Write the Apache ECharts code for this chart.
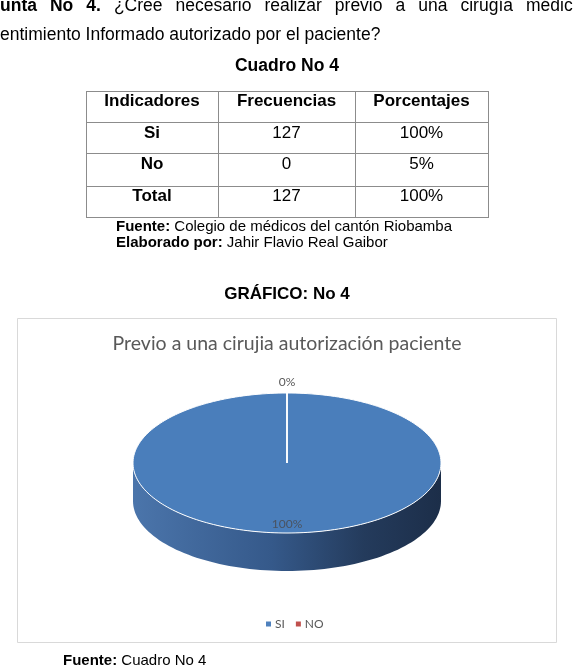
<!DOCTYPE html>
<html><head><meta charset="utf-8">
<script src="https://cdn.jsdelivr.net/npm/echarts@6/dist/echarts.min.js"></script>
<style>html,body{margin:0;padding:0;background:#fff}#c{width:573px;height:666px}</style>
</head><body><div id="c"></div>
<script>
// ---- data ----
const categories = ['SI', 'NO'];
const frequencies = [127, 0];
const chartTitle = 'Previo a una cirujia autorización paciente';
const tableHeader = ['Indicadores', 'Frecuencias', 'Porcentajes'];
const tableIndicators = ['Si', 'No', 'Total'];
const tableFrequencies = ['127', '0', '127'];
const tablePercentages = ['100%', '5%', '100%'];
const questionBold = ['Pregunta', 'No', '4.'];
const questionWords = ['¿Cree', 'necesario', 'realizar', 'previo', 'a', 'una', 'cirugía', 'médico'];
const questionLine2 = 'Consentimiento Informado autorizado por el paciente?';

// ---- layout / style ----
const BODY = 'Liberation Sans';
const CHARTF = 'Lato';
const sliceColors = ['#4f81bd', '#c0504d'];
const pie = { cx: 287, cy: 463, rx: 154, ry: 70, depth: 38 };

const ctx = document.createElement('canvas').getContext('2d');
function tw(t, size, bold) { ctx.font = (bold ? 'bold ' : '') + size + 'px "' + BODY + '"'; return ctx.measureText(t).width; }

const graphic = [];
function txt(x, y, text, size, opts) {
  opts = opts || {};
  graphic.push({ type: 'text', x: x, y: y, silent: true, style: {
    text: text, fontFamily: opts.font || BODY, fontSize: size, fontWeight: opts.bold ? 'bold' : 'normal',
    fill: opts.color || '#000', align: opts.align || 'left', verticalAlign: 'middle' } });
}

// question line 1 (justified, clipped by the page)
const FS = 17.5;
const allWords = questionBold.map(w => ({ w, b: true })).concat(questionWords.map(w => ({ w, b: false })));
const startX = -tw('Preg', FS, true);
const lastStart = 526;
let sumW = 0;
for (let i = 0; i < allWords.length - 1; i++) sumW += tw(allWords[i].w, FS, allWords[i].b);
const gap = (lastStart - startX - sumW) / (allWords.length - 1);
let xx = startX;
allWords.forEach(o => { txt(xx, 6, o.w, FS, { bold: o.b }); xx += tw(o.w, FS, o.b) + gap; });
// line 2
txt(-tw('Cons', FS, false), 35, questionLine2, FS);
txt(287, 66.5, 'Cuadro No 4', FS, { bold: true, align: 'center' });

// table
const colX = [86, 218, 355, 488];
const rowY = [91, 122, 153, 186, 217];
const lineStyle = { stroke: '#8c8c8c', lineWidth: 1 };
colX.forEach(x => graphic.push({ type: 'line', silent: true, shape: { x1: x + 0.5, y1: rowY[0], x2: x + 0.5, y2: rowY[rowY.length - 1] + 1 }, style: lineStyle }));
rowY.forEach(y => graphic.push({ type: 'line', silent: true, shape: { x1: colX[0], y1: y + 0.5, x2: colX[colX.length - 1] + 1, y2: y + 0.5 }, style: lineStyle }));
const colC = [152, 286.5, 421.5];
const textY = [101.5, 133, 164.5, 196];
tableHeader.forEach((h, j) => txt(colC[j], textY[0], h, 17, { bold: true, align: 'center' }));
tableIndicators.forEach((v, i) => {
  txt(colC[0], textY[i + 1], v, 17, { bold: true, align: 'center' });
  txt(colC[1], textY[i + 1], tableFrequencies[i], 17, { align: 'center' });
  txt(colC[2], textY[i + 1], tablePercentages[i], 17, { align: 'center' });
});
// sources
function src(x, y, b, n, size) {
  txt(x, y, b, size, { bold: true });
  txt(x + tw(b, size, true), y, n, size);
}
src(116, 226.5, 'Fuente: ', 'Colegio de médicos del cantón Riobamba', 15);
src(116, 242.5, 'Elaborado por: ', 'Jahir Flavio Real Gaibor', 15);
txt(287, 294, 'GRÁFICO: No 4', 17, { bold: true, align: 'center' });
src(63, 661, 'Fuente: ', 'Cuadro No 4', 15);

// chart frame and title
graphic.push({ type: 'rect', silent: true, z: -1, shape: { x: 17.5, y: 318.5, width: 539, height: 324 }, style: { fill: '#fff', stroke: '#d9d9d9', lineWidth: 1 } });
txt(287, 343.5, chartTitle, 19.5, { font: CHARTF, color: '#595959', align: 'center' });

// ---- pie (custom series drawn from the data) ----
const total = frequencies.reduce((a, b) => a + b, 0);
function ell(a, dy) { return [pie.cx + pie.rx * Math.cos(a), pie.cy + pie.ry * Math.sin(a) + (dy || 0)]; }
function makeRender(idx) {
  return function (params, api) {
    const v = api.value(0);
    let before = 0;
    for (let k = 0; k < idx; k++) before += frequencies[k];
    const a0 = -Math.PI / 2 + 2 * Math.PI * before / total;
    const a1 = a0 + 2 * Math.PI * v / total;
    const children = [];
    // side (front half of the slice)
    for (let k = -1; k <= 1; k++) {
      const s = Math.max(a0, 2 * Math.PI * k), e = Math.min(a1, 2 * Math.PI * k + Math.PI);
      if (e - s > 1e-6) {
        const pts = [];
        const N = 90;
        for (let i = 0; i <= N; i++) pts.push(ell(s + (e - s) * i / N));
        for (let i = N; i >= 0; i--) pts.push(ell(s + (e - s) * i / N, pie.depth));
        children.push({ type: 'polygon', shape: { points: pts }, style: {
          fill: { type: 'linear', x: 0, y: 0, x2: 1, y2: 0, colorStops: [
            { offset: 0, color: '#4b75ab' }, { offset: 0.45, color: '#35598a' },
            { offset: 0.75, color: '#243b5c' }, { offset: 1, color: '#1c2e49' }] }, stroke: null } });
      }
    }
    // top face
    if (a1 - a0 > 1e-6) {
      const pts = [[pie.cx, pie.cy]];
      const N = 240;
      for (let i = 0; i <= N; i++) pts.push(ell(a0 + (a1 - a0) * i / N));
      children.push({ type: 'polygon', shape: { points: pts }, style: { fill: '#4a7ebb', stroke: '#ffffff', lineWidth: 1 } });
    }
    // slice boundary
    const pb = ell(a0);
    children.push({ type: 'line', shape: { x1: pie.cx, y1: pie.cy, x2: pb[0], y2: pb[1] }, style: { stroke: '#ffffff', lineWidth: 1.2 } });
    // label
    const mid = (a0 + a1) / 2;
    const inside = v / total >= 0.05;
    const f = inside ? 0.87 : 1.16;
    children.push({ type: 'text', x: pie.cx + pie.rx * f * Math.cos(mid), y: pie.cy + pie.ry * f * Math.sin(mid), z2: 10, style: {
      text: Math.round(v / total * 100) + '%', fontFamily: CHARTF, fontSize: 12,
      fill: inside ? '#4a5360' : '#595959', align: 'center', verticalAlign: 'middle' } });
    return { type: 'group', children: children };
  };
}

const chart = echarts.init(document.getElementById('c'), null, { renderer: 'canvas' });
chart.setOption({
  animation: false,
  backgroundColor: '#ffffff',
  legend: {
    data: categories, left: 261, top: 613, icon: 'rect', itemWidth: 5, itemHeight: 5, itemGap: 11,
    textStyle: { fontFamily: CHARTF, fontSize: 12, color: '#595959', padding: [0, 0, 0, -1] }
  },
  graphic: graphic,
  series: categories.map((name, i) => ({
    type: 'custom', name: name, coordinateSystem: 'none', silent: true,
    itemStyle: { color: sliceColors[i] }, z: 5 + i,
    data: [[frequencies[i]]],
    renderItem: makeRender(i)
  }))
});
</script>
</body></html>
